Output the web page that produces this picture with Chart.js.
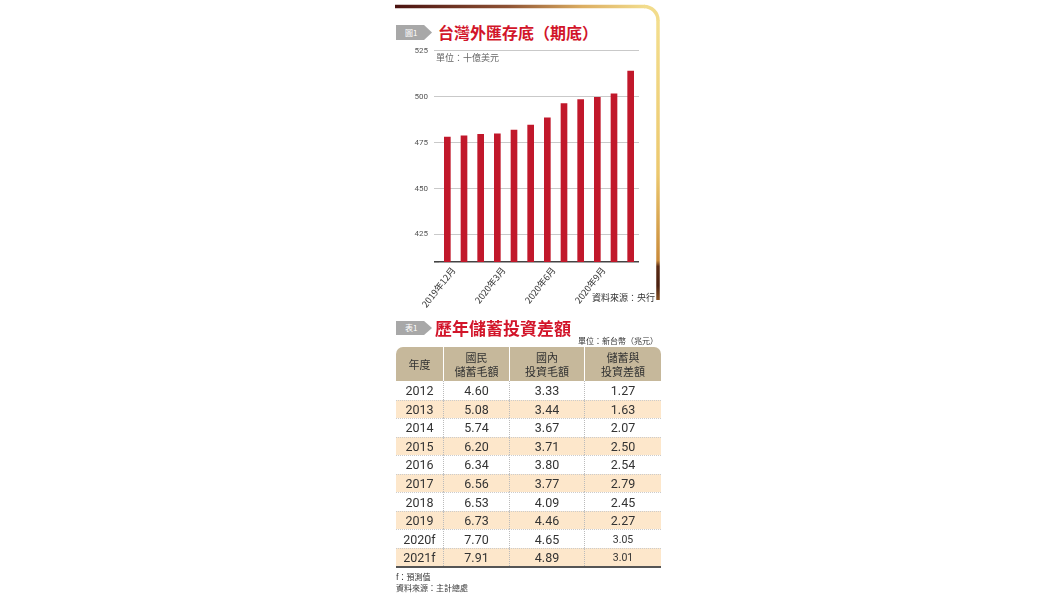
<!DOCTYPE html>
<html>
<head>
<meta charset="utf-8">
<script src="https://cdn.jsdelivr.net/npm/chart.js@4.4.1/dist/chart.umd.min.js"></script>
<style>
  html,body{margin:0;padding:0;background:#fff;}
  body{width:1060px;height:596px;position:relative;overflow:hidden;font-family:"Noto Sans CJK TC","Noto Sans",sans-serif;}
  .abs{position:absolute;white-space:nowrap;}
  .tab{position:absolute;background:#a8a8a8;color:#fff;font-size:8px;line-height:15px;height:15px;width:36px;
       clip-path:polygon(0 0,78% 0,100% 50%,78% 100%,0 100%);text-align:left;text-indent:9px;}
  .title{color:#d2152a;font-weight:700;}
  #chartWrap{position:absolute;left:395px;top:40px;width:250px;height:270px;}
  #tbl{position:absolute;left:396px;top:347px;width:265px;}
  .row{display:flex;position:relative;}
  .cell{display:flex;align-items:center;justify-content:center;box-sizing:border-box;}
  .hdr .cell{background:#c6b89b;color:#333;font-size:11px;line-height:14.5px;text-align:center;height:34px;border-left:1.5px solid #fff;}
  .hdr .cell:first-child{border-left:none;border-top-left-radius:7px;}
  .hdr .cell:last-child{border-top-right-radius:7px;}
  .data .cell{height:18.56px;font-family:Roboto,"Noto Sans",sans-serif;font-size:12.5px;color:#333;border-left:1px dotted #bbb;border-top:1px dotted #ccc;}
  .data .cell:first-child{border-left:none;}
  .data.alt .cell{background:#fde7cb;}
</style>
</head>
<body>
<svg class="abs" style="left:0;top:0" width="1060" height="596">
  <defs>
    <linearGradient id="gh" x1="395" y1="0" x2="645" y2="0" gradientUnits="userSpaceOnUse">
      <stop offset="0" stop-color="#4a1210"/>
      <stop offset="0.45" stop-color="#8e5234"/>
      <stop offset="0.75" stop-color="#dcae62"/>
      <stop offset="1" stop-color="#f2dc8c"/>
    </linearGradient>
    <linearGradient id="gv" x1="0" y1="20" x2="0" y2="300" gradientUnits="userSpaceOnUse">
      <stop offset="0" stop-color="#f3de8e"/>
      <stop offset="0.55" stop-color="#ecc86e"/>
      <stop offset="0.86" stop-color="#c98a3a"/>
      <stop offset="0.88" stop-color="#5a2a14"/>
      <stop offset="0.95" stop-color="#4a2010"/>
      <stop offset="1" stop-color="#8a5424"/>
    </linearGradient>
  </defs>
  <path d="M395,6.5 L645,6.5" stroke="url(#gh)" stroke-width="3.5" fill="none"/>
  <path d="M644,6.5 A14,14 0 0 1 658,20.5" stroke="#f2dc8c" stroke-width="3.5" fill="none"/>
  <path d="M658,20 L658,300" stroke="url(#gv)" stroke-width="3.5" fill="none"/>
</svg>

<div class="tab" style="left:396px;top:25px;">圖1</div>
<div class="abs title" style="left:438px;top:21px;font-size:16px;line-height:22px;">台灣外匯存底（期底）</div>

<div id="chartWrap"><canvas id="c" width="250" height="270"></canvas></div>
<div class="abs" style="left:436px;top:51px;font-size:9px;line-height:13px;color:#666;">單位：十億美元</div>
<div class="abs" style="left:592px;top:291px;font-size:9px;line-height:13px;color:#333;">資料來源：央行</div>

<div class="tab" style="left:396px;top:321px;height:14px;line-height:14px;">表1</div>
<div class="abs title" style="left:435px;top:316px;font-size:17px;line-height:23px;">歷年儲蓄投資差額</div>
<div class="abs" style="left:578px;top:335px;font-size:8px;line-height:11px;color:#333;">單位：新台幣（兆元）</div>

<div id="tbl"></div>
<div class="abs" style="left:396px;top:566px;width:265px;height:2px;background:#555;"></div>
<div class="abs" style="left:396px;top:571px;font-size:8px;line-height:11px;color:#333;">f：預測值</div>
<div class="abs" style="left:396px;top:582px;font-size:8px;line-height:11px;color:#333;">資料來源：主計總處</div>

<script>
// ---- Chart data ----
const months = ['2019年12月','2020年1月','2020年2月','2020年3月','2020年4月','2020年5月',
                '2020年6月','2020年7月','2020年8月','2020年9月','2020年10月','2020年11月'];
const reserves = [478.0, 478.7, 479.5, 479.8, 481.8, 484.5, 488.5, 496.2, 498.4, 499.6, 501.6, 514.0];
const yTickValues = [410, 425, 450, 475, 500, 525];
const yMin = 410, yMax = 525;

// ---- Table data ----
const tableHeaders = ['年度', '國民<br>儲蓄毛額', '國內<br>投資毛額', '儲蓄與<br>投資差額'];
const years = ['2012','2013','2014','2015','2016','2017','2018','2019','2020f','2021f'];
const nationalSaving = ['4.60','5.08','5.74','6.20','6.34','6.56','6.53','6.73','7.70','7.91'];
const domesticInvestment = ['3.33','3.44','3.67','3.71','3.80','3.77','4.09','4.46','4.65','4.89'];
const savingGap = ['1.27','1.63','2.07','2.50','2.54','2.79','2.45','2.27','3.05','3.01'];

const colWidths = [47, 66, 75, 77];

// Build table
(function(){
  const t = document.getElementById('tbl');
  let h = '<div class="row hdr">';
  tableHeaders.forEach((txt,i)=>{ h += '<div class="cell" style="width:'+colWidths[i]+'px">'+txt+'</div>'; });
  h += '</div>';
  years.forEach((y,r)=>{
    const vals = [y, nationalSaving[r], domesticInvestment[r], savingGap[r]];
    h += '<div class="row data'+(r%2===1?' alt':'')+'">';
    vals.forEach((v,i)=>{
      let st = 'width:'+colWidths[i]+'px;';
      if (i===3 && r>=8) st += 'font-size:10.5px;';
      if (r===0) st += 'border-top:none;';
      h += '<div class="cell" style="'+st+'">'+v+'</div>';
    });
    h += '</div>';
  });
  t.innerHTML = h;
})();

// Build chart
new Chart(document.getElementById('c'), {
  type: 'bar',
  data: {
    labels: months,
    datasets: [{
      data: reserves,
      backgroundColor: '#c1182b',
      barThickness: 6
    }]
  },
  options: {
    responsive: false,
    animation: false,
    devicePixelRatio: 1,
    layout: { padding: { left: 0, right: 6, top: 8, bottom: 0 } },
    plugins: { legend: { display: false }, tooltip: { enabled: false } },
    scales: {
      x: {
        offset: true,
        grid: { display: false, drawTicks: false },
        border: { display: false },
        ticks: {
          autoSkip: false,
          maxRotation: 52,
          minRotation: 52,
          padding: 3,
          labelOffset: 6,
          color: '#333',
          font: { family: '"Noto Sans CJK TC", sans-serif', size: 9 },
          callback: function(v, i) { return i % 3 === 0 ? months[i] : ''; }
        },
        afterFit: function(s) { s.height = 48; }
      },
      y: {
        min: yMin,
        max: yMax,
        afterBuildTicks: function(s) { s.ticks = yTickValues.map(v => ({ value: v })); },
        border: { display: false },
        grid: {
          tickLength: 5,
          color: ctx => (ctx.tick && ctx.tick.value === yMin) ? '#444' : '#c9c9c9',
          lineWidth: ctx => (ctx.tick && ctx.tick.value === yMin) ? 1.6 : 1
        },
        ticks: {
          padding: 6,
          color: '#555',
          font: { family: 'Roboto, sans-serif', size: 8 },
          callback: v => v === yMin ? '' : v
        },
        afterFit: function(s) { s.width = 44; }
      }
    }
  }
});
</script>
</body>
</html>
